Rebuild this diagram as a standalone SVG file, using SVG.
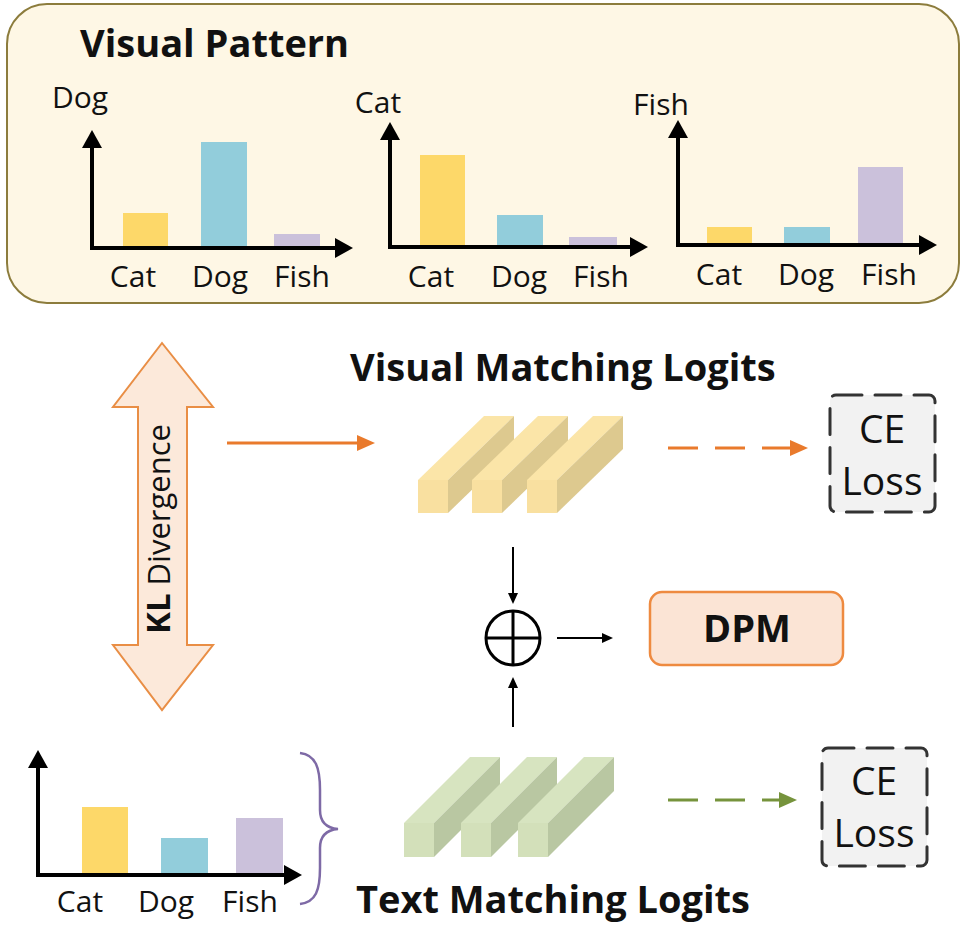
<svg xmlns="http://www.w3.org/2000/svg" xmlns:xlink="http://www.w3.org/1999/xlink" width="964" height="925" viewBox="0 0 964 925">
  <style>
    text { font-family: "Open Sans", "Noto Sans", "DejaVu Sans", sans-serif; fill: #111; }
    .lbl { font-size: 30px; text-anchor: middle; }
    .ttl { font-size: 38px; font-weight: 700; }
    .ce  { font-size: 39px; text-anchor: middle; }
    .axis { fill: none; stroke: #000; stroke-width: 4; stroke-linejoin: miter; marker-start: url(#axHead); marker-end: url(#axHead); }
    .yel { fill: #FDD869; }
    .blu { fill: #92CDDB; }
    .pur { fill: #CBC1DB; }
    .thin { fill: none; stroke: #000; stroke-width: 2; marker-end: url(#thinHead); }
    .lossbox { fill: #F2F2F2; stroke: #333; stroke-width: 3; stroke-dasharray: 26 13; stroke-linecap: round; }
  </style>
  <defs>
    <marker id="axHead" markerUnits="userSpaceOnUse" viewBox="0 0 18 20" markerWidth="18" markerHeight="20" refX="4" refY="10" orient="auto-start-reverse">
      <path d="M0,0 L18,10 L0,20 z" fill="#000"/>
    </marker>
    <marker id="thinHead" markerUnits="userSpaceOnUse" viewBox="0 0 11 10" markerWidth="11" markerHeight="10" refX="2" refY="5" orient="auto">
      <path d="M0,0 L11,5 L0,10 z" fill="#000"/>
    </marker>
    <marker id="orHead" markerUnits="userSpaceOnUse" viewBox="0 0 18 16" markerWidth="18" markerHeight="16" refX="3" refY="8" orient="auto">
      <path d="M0,0 L18,8 L0,16 z" fill="#E97A2C"/>
    </marker>
    <marker id="grHead" markerUnits="userSpaceOnUse" viewBox="0 0 18 16" markerWidth="18" markerHeight="16" refX="3" refY="8" orient="auto">
      <path d="M0,0 L18,8 L0,16 z" fill="#76933C"/>
    </marker>
    <!-- one 3D logit bar, front face at the origin -->
    <g id="ybar">
      <polygon points="0,0 30,0 96,-64 66,-64" fill="#FBE5A8"/>
      <polygon points="30,0 96,-64 96,-31 30,33" fill="#DDC98F"/>
      <rect x="0" y="0" width="30" height="33" fill="#F9E0A0"/>
    </g>
    <g id="gbar">
      <polygon points="0,0 30,0 96,-66 66,-66" fill="#D7E4C0"/>
      <polygon points="30,0 96,-66 96,-32 30,34" fill="#B9C7A2"/>
      <rect x="0" y="0" width="30" height="34" fill="#D3E0BA"/>
    </g>
  </defs>

  <rect width="964" height="925" fill="#FFFFFF"/>

  <!-- Visual pattern panel -->
  <g id="visual-pattern">
    <rect x="7" y="4" width="952" height="299" rx="40" ry="40" fill="#FEF7E5" stroke="#8C7C3C" stroke-width="2"/>
    <text class="ttl" x="80" y="57">Visual Pattern</text>

    <g id="chart-dog">
      <rect class="yel" x="123" y="213" width="45" height="35"/>
      <rect class="blu" x="201" y="142" width="46" height="106"/>
      <rect class="pur" x="274" y="234" width="46" height="14"/>
      <path class="axis" d="M92,144 L92,248 L339,248"/>
      <text class="lbl" x="80" y="108">Dog</text>
      <text class="lbl" x="133" y="287">Cat</text>
      <text class="lbl" x="220" y="287">Dog</text>
      <text class="lbl" x="302" y="287">Fish</text>
    </g>

    <g id="chart-cat">
      <rect class="yel" x="420" y="155" width="45" height="92"/>
      <rect class="blu" x="497" y="215" width="46" height="32"/>
      <rect class="pur" x="569" y="237" width="48" height="10"/>
      <path class="axis" d="M390,136 L390,247 L634,247"/>
      <text class="lbl" x="378" y="113">Cat</text>
      <text class="lbl" x="431" y="287">Cat</text>
      <text class="lbl" x="519" y="287">Dog</text>
      <text class="lbl" x="601" y="287">Fish</text>
    </g>

    <g id="chart-fish">
      <rect class="yel" x="707" y="227" width="45" height="18"/>
      <rect class="blu" x="784" y="227" width="46" height="18"/>
      <rect class="pur" x="858" y="167" width="45" height="78"/>
      <path class="axis" d="M678,134 L678,245 L923,245"/>
      <text class="lbl" x="661" y="115">Fish</text>
      <text class="lbl" x="719" y="285">Cat</text>
      <text class="lbl" x="806" y="285">Dog</text>
      <text class="lbl" x="889" y="285">Fish</text>
    </g>
  </g>

  <!-- KL divergence double arrow -->
  <g id="kl-divergence">
    <polygon points="162,343 213,407 187,407 187,645 213,645 162,710 113,645 138,645 138,407 113,407" fill="#FCE9DA" stroke="#E98E45" stroke-width="2"/>
    <text transform="translate(170,634) rotate(-90)"><tspan font-size="33" font-weight="700">KL</tspan><tspan font-size="31"> Divergence</tspan></text>
  </g>

  <!-- Visual matching logits -->
  <g id="visual-logits">
    <text class="ttl" x="350" y="381">Visual Matching Logits</text>
    <use xlink:href="#ybar" x="418" y="480"/>
    <use xlink:href="#ybar" x="472" y="480"/>
    <use xlink:href="#ybar" x="527" y="480"/>
  </g>

  <g id="ce-loss-visual">
    <rect class="lossbox" x="830" y="395" width="105" height="117" rx="6"/>
    <text class="ce" x="882" y="443">CE</text>
    <text class="ce" x="882" y="495">Loss</text>
  </g>

  <!-- element-wise sum -->
  <g id="sum">
    <circle cx="513" cy="638" r="27" fill="none" stroke="#000" stroke-width="3"/>
    <line x1="486" y1="638" x2="540" y2="638" stroke="#000" stroke-width="3"/>
    <line x1="513" y1="611" x2="513" y2="665" stroke="#000" stroke-width="3"/>
  </g>

  <g id="dpm">
    <rect x="650" y="592" width="193" height="73" rx="12" fill="#FBE4D5" stroke="#EE8A40" stroke-width="2.5"/>
    <text x="747" y="642" font-size="38" font-weight="700" text-anchor="middle">DPM</text>
  </g>

  <!-- Text matching logits -->
  <g id="text-logits">
    <use xlink:href="#gbar" x="404" y="823"/>
    <use xlink:href="#gbar" x="461" y="823"/>
    <use xlink:href="#gbar" x="518" y="823"/>
    <text class="ttl" x="356" y="913">Text Matching Logits</text>
  </g>

  <g id="ce-loss-text">
    <rect class="lossbox" x="822" y="748" width="105" height="118" rx="6"/>
    <text class="ce" x="874" y="795">CE</text>
    <text class="ce" x="874" y="847">Loss</text>
  </g>

  <!-- Text pattern chart -->
  <g id="text-pattern">
    <rect class="yel" x="82" y="807" width="46" height="68"/>
    <rect class="blu" x="161" y="838" width="47" height="37"/>
    <rect class="pur" x="236" y="818" width="47" height="57"/>
    <path class="axis" d="M38,764 L38,875 L288,875"/>
    <text class="lbl" x="80" y="912">Cat</text>
    <text class="lbl" x="166" y="912">Dog</text>
    <text class="lbl" x="250" y="912">Fish</text>
    <path d="M300,753 C316,755 320,768 320,790 L320,810 C320,822 326,828 338,829 C326,830 320,836 320,848 L320,868 C320,890 316,902 300,904" fill="none" stroke="#7E6AA6" stroke-width="2.5"/>
  </g>

  <!-- connectors -->
  <g id="connectors">
    <line x1="227" y1="443" x2="360" y2="443" stroke="#E97A2C" stroke-width="3" marker-end="url(#orHead)"/>
    <line x1="668" y1="448" x2="793" y2="448" stroke="#E97A2C" stroke-width="3" stroke-dasharray="30 17" marker-end="url(#orHead)"/>
    <line x1="668" y1="800" x2="782" y2="800" stroke="#76933C" stroke-width="3" stroke-dasharray="30 17" marker-end="url(#grHead)"/>
    <line class="thin" x1="513" y1="547" x2="513" y2="595"/>
    <line class="thin" x1="513" y1="727" x2="513" y2="686"/>
    <line class="thin" x1="557" y1="638" x2="604" y2="638"/>
  </g>
</svg>
